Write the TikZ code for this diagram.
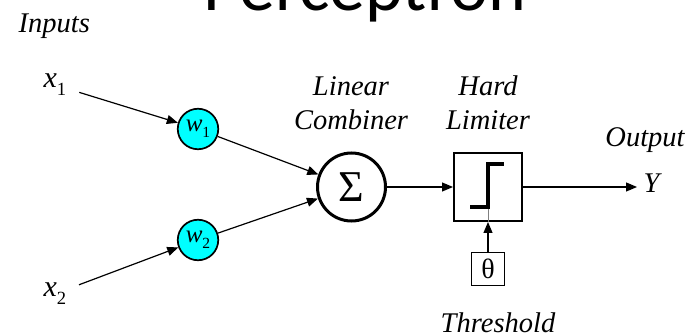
\documentclass[tikz,border=0pt]{standalone}
\usepackage{fontspec}
\setmainfont{Liberation Serif}
\newfontfamily\titlefont{Carlito}
\usepackage{xcolor}
\usepackage{graphicx}
\usepackage{tikz}
\usetikzlibrary{arrows.meta,calc}

\definecolor{wfill}{RGB}{0,255,255}

% italic symbol with a small upright index
\newcommand{\var}[2]{\textit{#1}\raisebox{-.25em}{\scalebox{.62}{#2}}}

\begin{document}
\begin{tikzpicture}[->,>={Triangle[length=11pt,width=9pt]},x=1pt,y=-1pt,line width=1.2pt]
  \tikzstyle{weight}=[circle,draw,fill=wfill,line width=1.7pt,minimum size=40.5pt,inner sep=0pt,font=\fontsize{25}{30}\selectfont]
  \tikzstyle{lbl}=[inner sep=0pt,align=center,font=\fontsize{28.5}{34}\selectfont\itshape]
  \tikzstyle{inp}=[anchor=base west,inner sep=0pt,font=\fontsize{30}{36}\selectfont]

  \useasboundingbox (0,0) rectangle (690,336);
  \clip (0,0) rectangle (690,336);

  \node[anchor=base,inner sep=0pt,font=\titlefont\fontsize{72}{80}\selectfont] (title) at (365,11) {Perceptron};
  \node[lbl,anchor=base west] (inputs) at (18,33) {Inputs};

  \node[inp]    (x1) at (43,88)  {\var{x}{1}};
  \node[inp]    (x2) at (43,297) {\var{x}{2}};
  \node[weight] (w1) at (198,129) {\var{w}{1}};
  \node[weight] (w2) at (198,240) {\var{w}{2}};

  \node[circle,draw,line width=3pt,minimum size=68pt,inner sep=0pt,font=\fontsize{44}{44}\selectfont] (sum) at (351.5,187) {Σ};
  \node[draw,line width=2pt,minimum size=68pt] (hard) at (488,187) {};
  \node[draw,line width=1.7pt,minimum size=33pt,inner sep=0pt,font=\fontsize{28}{28}\selectfont] (theta) at (488,269) {θ};

  \node[lbl] (comb) at (351,102.8) {Linear\\Combiner};
  \node[lbl] (lim)  at (488,102.8) {Hard\\Limiter};
  \node[lbl,anchor=base] (outlbl) at (645,147) {Output};
  \node[lbl,anchor=base] (thr)    at (498,332) {Threshold};
  \node[lbl,anchor=base west,inner sep=6pt] (Y) at (637,193) {Y};

  % step inside the limiter
  \draw[-,gray,line width=1pt] ($(hard)+(0,20)$) -- (hard.south);
  \draw[-,line width=3.5pt] ($(hard)+(-18,20)$) -- ++(18,0) -- ++(0,-43) -- ++(16,0);

  \path	(x1)	edge	[shorten <=13pt]	(w1)
		(x2)	edge	[shorten <=13pt]	(w2)
		(w1)	edge				(sum)
		(w2)	edge				(sum)
		(sum)	edge				(hard)
		(theta)	edge				(hard)
		(hard)	edge				(hard -| Y.west);

\end{tikzpicture}
\end{document}
